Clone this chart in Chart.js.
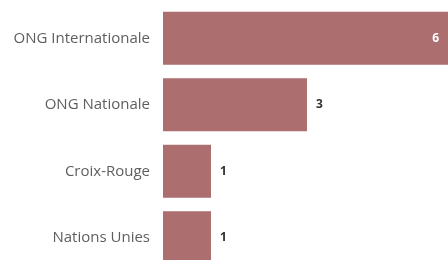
<!DOCTYPE html>
<html>
<head>
<meta charset="utf-8">
<script src="https://cdn.jsdelivr.net/npm/chart.js@4"></script>
<style>
  html, body { margin: 0; padding: 0; background: #fff; overflow: hidden; width: 448px; height: 260px; }
  #chart { display: block; }
</style>
</head>
<body>
<canvas id="chart" width="451" height="272"></canvas>
<script>
// Horizontal bar chart: organisations by type, count labels at bar ends.
// The reference crops the plot a little on the right and bottom, so the
// canvas is slightly bigger than the window.

const categories = ["ONG Internationale", "ONG Nationale", "Croix-Rouge", "Nations Unies"];
const counts = [6, 3, 1, 1];

const BAR = "#ad6e70";

// Value labels: inside (white) when the bar is long, otherwise just past the end.
const barLabels = {
  id: "barLabels",
  afterDatasetsDraw(chart) {
    const { ctx } = chart;
    const meta = chart.getDatasetMeta(0);
    ctx.save();
    ctx.font = "bold 12px 'Open Sans', sans-serif";
    ctx.textBaseline = "middle";
    meta.data.forEach((bar, i) => {
      const v = counts[i];
      if (v >= 5) {
        ctx.fillStyle = "#fff";
        ctx.textAlign = "right";
        ctx.fillText(String(v), bar.x - 12, bar.y);
      } else {
        ctx.fillStyle = "#333";
        ctx.textAlign = "left";
        ctx.fillText(String(v), bar.x + 9, bar.y);
      }
    });
    ctx.restore();
  },
};

new Chart(document.getElementById("chart"), {
  type: "bar",
  data: {
    labels: categories,
    datasets: [{ data: counts, backgroundColor: BAR, borderWidth: 0, categoryPercentage: 0.8, barPercentage: 1 }],
  },
  plugins: [barLabels],
  options: {
    indexAxis: "y",
    responsive: false,
    animation: false,
    layout: { padding: { top: 5, bottom: 1, left: 0, right: 0 } },
    plugins: { legend: { display: false }, tooltip: { enabled: false } },
    scales: {
      x: { min: 0, max: 6, display: false, grid: { display: false } },
      y: {
        grid: { display: false, drawTicks: false },
        border: { display: false },
        ticks: { color: "#5e5e5e", padding: 13, font: { family: "'Open Sans', sans-serif", size: 15 } },
        afterFit(s) {
          s.width = 163;
          s.paddingTop = 0;
          s.paddingBottom = 0;
        },
      },
    },
  },
});
</script>
</body>
</html>
